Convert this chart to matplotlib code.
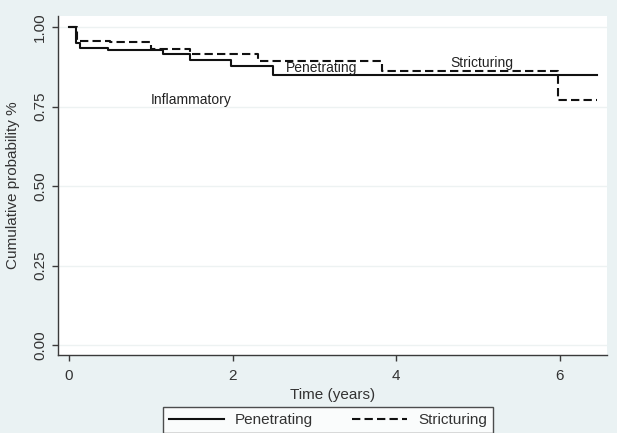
import matplotlib
matplotlib.use("Agg")
import matplotlib.pyplot as plt
import numpy as np

# Kaplan-Meier style step data
pen_times = [0.0, 0.08, 0.13, 0.48, 1.15, 1.48, 1.98, 2.50]
pen_surv = [1.00, 0.950, 0.935, 0.928, 0.914, 0.898, 0.877, 0.850]
pen_end = 6.46

str_times = [0.0, 0.10, 0.50, 1.00, 1.48, 2.31, 3.83, 5.98]
str_surv = [1.00, 0.957, 0.952, 0.930, 0.917, 0.893, 0.862, 0.770]
str_end = 6.46

x_ticks = [0, 2, 4, 6]
y_ticks = [0.00, 0.25, 0.50, 0.75, 1.00]
y_ticklabels = ["0.00", "0.25", "0.50", "0.75", "1.00"]

annotations = [("Inflammatory", 1.49, 0.770),
               ("Penetrating", 3.09, 0.871),
               ("Stricturing", 5.05, 0.887)]

BG = "#EAF2F3"
FONT = ["Liberation Sans", "DejaVu Sans"]
plt.rcParams["font.family"] = FONT

W, H = 617, 433
fig = plt.figure(figsize=(W / 100, H / 100), dpi=100, facecolor=BG)
ax = fig.add_axes([58 / W, 1 - 355 / H, (607 - 58) / W, (355 - 16) / H])
ax.set_facecolor("white")

def steps(t, s, end):
    tt = list(t) + [end]
    ss = list(s) + [s[-1]]
    return tt, ss

tt, ss = steps(pen_times, pen_surv, pen_end)
ax.step(tt, ss, where="post", color="#111111", lw=1.5, label="Penetrating")
tt, ss = steps(str_times, str_surv, str_end)
ax.step(tt, ss, where="post", color="#111111", lw=1.5, dashes=(4, 2),
        label="Stricturing")

ax.set_xlim(-0.135, 6.58)
ax.set_ylim(-0.031, 1.035)
ax.set_xticks(x_ticks)
ax.set_yticks(y_ticks)
ax.set_yticklabels(y_ticklabels, rotation=90, va="center")
ax.grid(axis="y", color="#EDF2F2", lw=1.0)
ax.set_axisbelow(True)
for s in ["top", "right"]:
    ax.spines[s].set_visible(False)
for s in ["left", "bottom"]:
    ax.spines[s].set_color("#3a3a3a")
    ax.spines[s].set_linewidth(1.0)
ax.tick_params(axis="both", direction="out", length=4, width=1.0,
               colors="#3a3a3a", labelsize=11, labelcolor="#333333")
ax.tick_params(axis="x", pad=6)
ax.tick_params(axis="y", pad=4)

ax.set_xlabel("Time (years)", fontsize=11, color="#333333", labelpad=4)
ax.set_ylabel("Cumulative probability %", fontsize=11, color="#333333",
              labelpad=9)

for txt, x, y in annotations:
    ax.text(x, y, txt, ha="center", va="center", fontsize=10, color="#222222")

leg = fig.legend(loc="upper center", bbox_to_anchor=(328 / W, 1 - 407 / H),
                 ncol=2, fontsize=11, frameon=True, fancybox=False,
                 handlelength=3.6, columnspacing=2.6, handletextpad=0.7,
                 borderaxespad=0, borderpad=0.4)
leg.get_frame().set_edgecolor("#222222")
leg.get_frame().set_linewidth(1.0)
leg.get_frame().set_facecolor("white")
for t in leg.get_texts():
    t.set_color("#333333")

fig.savefig("out.png", dpi=100, facecolor=BG)
